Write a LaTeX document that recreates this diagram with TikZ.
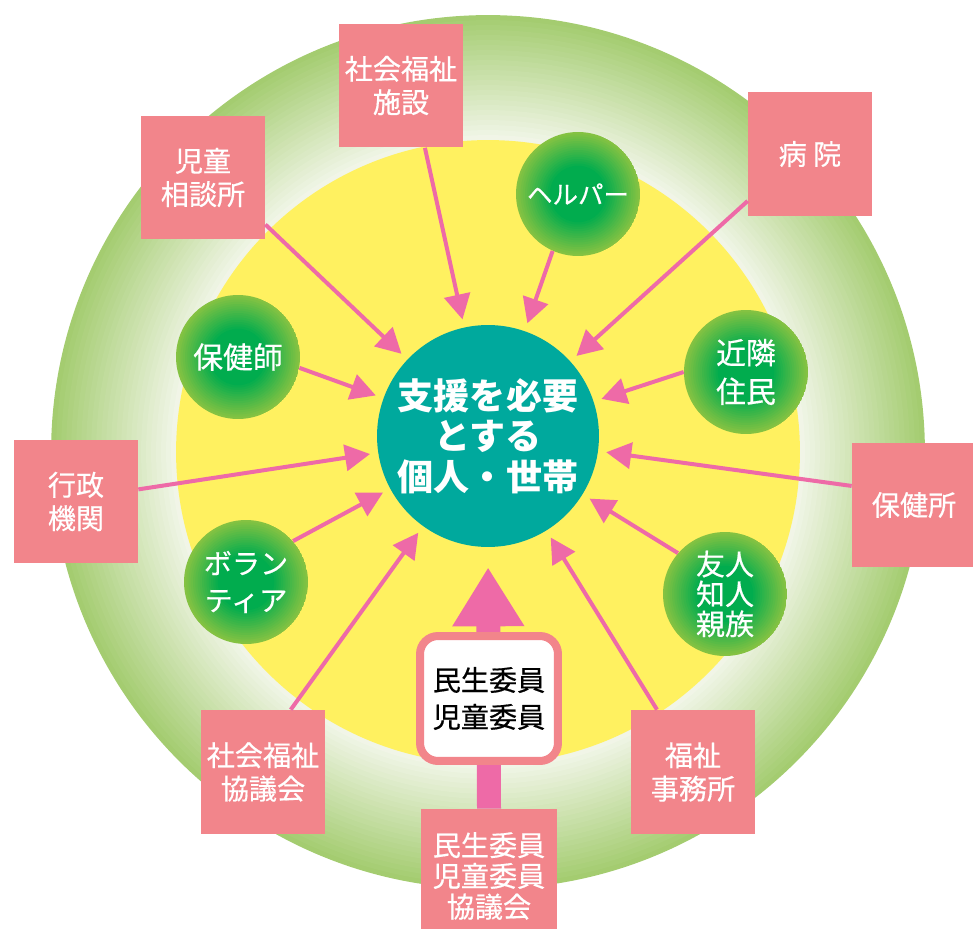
\documentclass[tikz,border=0pt]{standalone}
\usepackage{fontspec}
\setmainfont{Noto Sans CJK JP}
\newfontfamily\jpmid{Noto Sans CJK JP}[FakeBold=0.5]
\usetikzlibrary{arrows.meta}

\definecolor{boxpink}{RGB}{242,133,139}
\definecolor{arrowpink}{RGB}{238,106,167}
\definecolor{tealc}{RGB}{0,169,157}
\definecolor{yellowc}{RGB}{255,241,96}
\definecolor{ringin}{RGB}{240,245,230}
\definecolor{ringout}{RGB}{164,204,112}
\definecolor{ballin}{RGB}{0,172,78}
\definecolor{ballout}{RGB}{132,194,66}

\tikzset{
  ->/.style={draw=arrowpink,line width=0.08cm,shorten >=0.16cm,-{Triangle[length=0.5cm,width=0.52cm]}},
  bigarrow/.style={draw=arrowpink,line width=0.48cm,shorten >=0.4cm,-{Triangle[length=1.18cm,width=1.36cm]}},
  org/.style={fill=boxpink,minimum width=2.48cm,minimum height=2.48cm,inner sep=0pt,align=center,
    text=white,font=\fontsize{16}{19}\selectfont\jpmid},
  ball/.style={circle,minimum size=2.48cm,inner sep=0pt,align=center,text=white,
    path picture={
      \foreach \i [evaluate=\i as \r using 1.24-\i*0.045,
                   evaluate=\i as \p using 100-\i*6.6] in {0,...,15}
        \fill[ballout!\p!ballin] (path picture bounding box.center) circle[radius=\r cm];
    }},
  core/.style={circle,fill=tealc,minimum size=4.44cm,inner sep=0pt,align=center,text=white,
    font=\fontsize{20.5}{23}\selectfont\bfseries},
  member/.style={draw=boxpink,line width=0.16cm,fill=white,rounded corners=0.36cm,
    minimum width=2.76cm,minimum height=2.5cm,inner sep=0pt,align=center,
    font=\fontsize{16}{21}\selectfont\jpmid}
}

\begin{document}
\begin{tikzpicture}[x=0.02cm,y=-0.02cm]
    \useasboundingbox (0,0) rectangle (973,929);
    % green ring, fading to white towards the middle
    \foreach \i [evaluate=\i as \r using 8.74-\i*0.1,
                 evaluate=\i as \p using 100-\i*4.2] in {0,...,24}
      \fill[ringout!\p!ringin] (488,452) circle[radius=\r cm];
    \fill[yellowc] (488,452) circle[radius=6.24cm];

    \node[core] (X) at (488,436) {支援を必要\\とする\\個人・世帯};

    \node[org] (A) at (401,85.5) {社会福祉\\施設};
    \node[org] (B) at (203,177.5) {児童\\相談所};
    \node[org] (C) at (810,154) {病 院};
    \node[org] (D) at (76,501.5) {行政\\機関};
    \node[org] (E) at (914,505) {保健所};
    \node[org] (F) at (263,772) {社会福祉\\協議会};
    \node[org] (G) at (693,772) {福祉\\事務所};
    \node[org,minimum width=2.72cm,minimum height=2.68cm,font=\fontsize{16}{17.5}\selectfont\jpmid]
      (H) at (489,876) {民生委員\\児童委員\\協議会};

    \node[ball,font=\fontsize{14.5}{18}\selectfont\jpmid] (P) at (578,194) {ヘルパー};
    \node[ball,font=\fontsize{17}{20}\selectfont\jpmid] (Q) at (238,357) {保健師};
    \node[ball,font=\fontsize{17}{22}\selectfont\jpmid] (R) at (746,372) {近隣\\住民};
    \node[ball,font=\fontsize{16}{21}\selectfont\jpmid] (S) at (246,582) {ボラン\\ティア};
    \node[ball,font=\fontsize{16.5}{17}\selectfont\jpmid] (T) at (725,594) {友人\\知人\\親族};

    \draw[->] (A.-69.5) -- (X);
    \draw[->] (B.-37.5) -- (X);
    \draw[->] (P.-114) -- (X);
    \draw[->] (C.-143.4) -- (X);
    \draw[->] (Q.-10) -- (X);
    \draw[->] (R.180) -- (X);
    \draw[->] (D.11.4) -- (X);
    \draw[->] (E.163) -- (X);
    \draw[->] (S.41.8) -- (X);
    \draw[->] (T.139.6) -- (X);
    \draw[->] (F.66.5) -- (X);
    \draw[->] (G.120.8) -- (X);

    \draw[bigarrow] (H.north) -- (X.south);
    \node[member] (W) at (489,698.5) {民生委員\\児童委員};
\end{tikzpicture}
\end{document}
